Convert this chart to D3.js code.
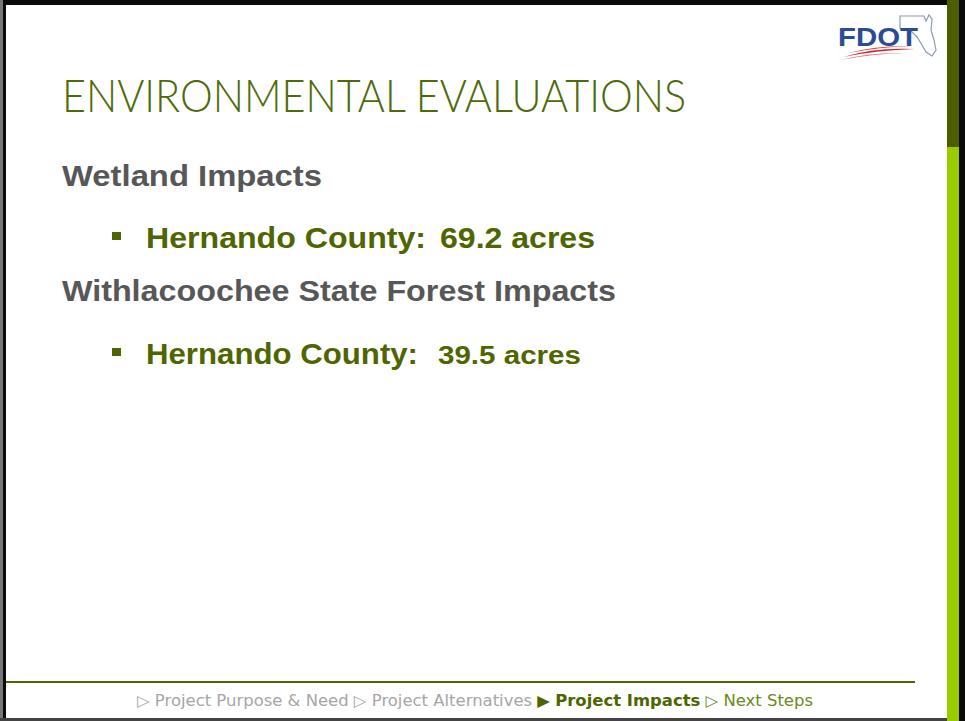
<!DOCTYPE html>
<html><head><meta charset="utf-8">
<script src="https://cdn.jsdelivr.net/npm/d3@7"></script>
<style>html,body{margin:0;padding:0;background:#fff;overflow:hidden}</style>
</head><body>
<script>
const titleText = "ENVIRONMENTAL EVALUATIONS";
const headings = ["Wetland Impacts", "Withlacoochee State Forest Impacts"];
const bulletLabels = ["Hernando County:", "Hernando County:"];
const bulletValues = ["69.2 acres", "39.5 acres"];
const footerItems = ["Project Purpose & Need", "Project Alternatives", "Project Impacts", "Next Steps"];
const footerActive = [false, false, true, false];

const W = 965, H = 721;
const svg = d3.select("body").append("svg").attr("width", W).attr("height", H);

// frame
svg.append("rect").attr("x",0).attr("y",0).attr("width",W).attr("height",H).attr("fill","#fff");
svg.append("rect").attr("x",0).attr("y",0).attr("width",948).attr("height",5).attr("fill","#0a0a0a");
svg.append("rect").attr("x",0).attr("y",0).attr("width",3).attr("height",H).attr("fill","#777");
svg.append("rect").attr("x",3).attr("y",0).attr("width",3).attr("height",H).attr("fill","#0a0a0a");
svg.append("rect").attr("x",0).attr("y",718).attr("width",948).attr("height",3).attr("fill","#444");
svg.append("rect").attr("x",947).attr("y",0).attr("width",12).attr("height",147).attr("fill","#4a5e00");
svg.append("rect").attr("x",947).attr("y",147).attr("width",12).attr("height",H-147).attr("fill","#99cc00");
svg.append("rect").attr("x",959).attr("y",0).attr("width",6).attr("height",H).attr("fill","#0a0a0a");

// logo
const logo = svg.append("g");
logo.append("path")
  .attr("d","M900,16 L924,16 L926,21 L929,15 L932,19 L931,30 L934,40 L936,50 L932,56 L926,52 L922,45 L917,37 L911,31 L904,29 L900,28 Z")
  .attr("fill","none").attr("stroke","#8a9ab8").attr("stroke-width",1.2);
logo.append("text").attr("x",838).attr("y",46).attr("font-family","Liberation Sans, Arial, sans-serif")
  .attr("font-weight","bold").attr("font-size",26).attr("fill","#2a4c94")
  .attr("textLength",80).attr("lengthAdjust","spacingAndGlyphs").text("FDOT");
logo.append("path").attr("d","M843,57 Q875,47 915,49 Q878,50 843,57 Z").attr("fill","#d8202a");
logo.append("path").attr("d","M848,53 Q878,45 912,46 Q880,47 848,53 Z").attr("fill","#e0404a");
logo.append("path").attr("d","M840,60 Q870,52 905,53 Q872,54 840,60 Z").attr("fill","#e87a80");

// title
svg.append("text").attr("x",62).attr("y",112)
  .attr("font-family","Lato, 'Open Sans', sans-serif").attr("font-weight",300)
  .attr("font-size",46).attr("fill","#4f6a0a")
  .attr("textLength",624).attr("lengthAdjust","spacingAndGlyphs").text(titleText);

// headings
const headY = [186, 301];
const headW = [260, 554];
svg.selectAll("text.head").data(headings).join("text").attr("class","head")
  .attr("x",62).attr("y",(d,i)=>headY[i])
  .attr("font-family","Liberation Sans, Arial, sans-serif").attr("font-weight","bold")
  .attr("font-size",29).attr("fill","#575757")
  .attr("textLength",(d,i)=>headW[i]).attr("lengthAdjust","spacingAndGlyphs").text(d=>d);

// bullets
const bulY = [248, 364];
const bulSq = [232, 348];
svg.selectAll("rect.bsq").data(bulletLabels).join("rect").attr("class","bsq")
  .attr("x",112).attr("y",(d,i)=>bulSq[i]).attr("width",9).attr("height",8).attr("fill","#4f6600");
const labW = [280, 272];
const valX = [440, 438];
const valW = [155, 143];
const valSize = [30, 26];
svg.selectAll("text.blab").data(bulletLabels).join("text").attr("class","blab")
  .attr("x",146).attr("y",(d,i)=>bulY[i])
  .attr("font-family","Liberation Sans, Arial, sans-serif").attr("font-weight","bold")
  .attr("font-size",30).attr("fill","#4f6600")
  .attr("textLength",(d,i)=>labW[i]).attr("lengthAdjust","spacingAndGlyphs").text(d=>d);
svg.selectAll("text.bval").data(bulletValues).join("text").attr("class","bval")
  .attr("x",(d,i)=>valX[i]).attr("y",(d,i)=>bulY[i])
  .attr("font-family","Liberation Sans, Arial, sans-serif").attr("font-weight","bold")
  .attr("font-size",(d,i)=>valSize[i]).attr("fill","#4f6600")
  .attr("textLength",(d,i)=>valW[i]).attr("lengthAdjust","spacingAndGlyphs").text(d=>d);

// footer line
svg.append("rect").attr("x",6).attr("y",681).attr("width",909).attr("height",2).attr("fill","#4f6600");

// footer text
const ft = svg.append("text").attr("x",475).attr("y",706).attr("text-anchor","middle")
  .attr("font-family","'DejaVu Sans', sans-serif").attr("font-size",15.5);
const activeIdx = footerActive.indexOf(true);
footerItems.forEach((d,i)=>{
  const active = footerActive[i];
  const past = i < activeIdx;
  const col = active ? "#4f6600" : (past ? "#a6a6a6" : "#6b8a1a");
  ft.append("tspan").attr("fill", col).text((i>0?" ":"") + (active ? "\u25B6" : "\u25B7") + " ");
  ft.append("tspan").attr("fill",col).attr("font-weight", active ? "bold" : "normal").text(d);
});
ft.attr("textLength",676).attr("lengthAdjust","spacingAndGlyphs");
</script>
</body></html>
